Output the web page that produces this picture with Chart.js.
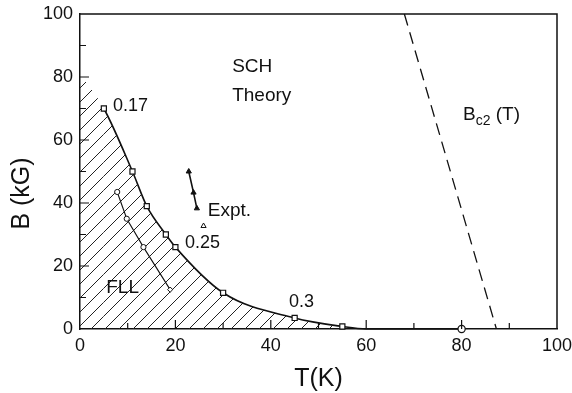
<!DOCTYPE html>
<html>
<head>
<meta charset="utf-8">
<script src="https://cdn.jsdelivr.net/npm/chart.js@4/dist/chart.umd.min.js"></script>
<style>
  html, body { margin: 0; padding: 0; background: #fff; }
</style>
</head>
<body>
<canvas id="myChart" width="572" height="393"></canvas>
<script>
// SCH theory curve, the hatched region sits under it
const theoryT = [0, 5, 11, 14, 18, 20, 30, 45, 55, 60, 80];
const theoryB = [81, 70, 50, 39, 30, 26, 11.5, 3.5, 0.8, 0, 0];

// FLL points
const fllT = [7.8, 9.8, 13.3, 18.9];
const fllB = [43.5, 35, 26, 12.5];

// experiment points
const exptT = [22.8, 23.8, 24.5, 25.9];
const exptB = [50, 43.3, 38.3, 32.7];

// Bc2(T) dashed line
const bc2T = [68, 87.3];
const bc2B = [100, 0];

const tickValues = [0, 20, 40, 60, 80, 100];
const minorValues = [10, 20, 30, 40, 50, 60, 70, 80, 90];

// text notes, anchored in data units
const notes = [
  { text: '0.17', t: 6.9, b: 70.8 },
  { text: 'SCH', t: 31.9, b: 83.2 },
  { text: 'Theory', t: 31.9, b: 74 },
  { text: 'Expt.', t: 26.8, b: 37.5 },
  { text: '0.25', t: 22, b: 27.3 },
  { text: 'FLL', t: 5.5, b: 13 },
  { text: '0.3', t: 43.8, b: 8.6 }
];

const ink = '#111';
const font = '"Liberation Sans", Arial, Helvetica, sans-serif';

const toXY = (xs, ys) => xs.map((x, i) => ({ x: x, y: ys[i] }));

// diagonal hatching
const makeHatch = () => {
  const s = 14;
  const c = document.createElement('canvas');
  c.width = s; c.height = s;
  const g = c.getContext('2d');
  g.strokeStyle = '#222';
  g.lineWidth = 1;
  g.beginPath();
  g.moveTo(-1, s + 1); g.lineTo(s + 1, -1);
  g.moveTo(-2, 2); g.lineTo(2, -2);
  g.moveTo(s - 2, s + 2); g.lineTo(s + 2, s - 2);
  g.stroke();
  return g.createPattern(c, 'repeat');
};

const theoryStyles = theoryT.map((t, i) => (i === theoryT.length - 1 ? 'circle' : 'rect'));
const theoryRadius = theoryT.map((t, i) => {
  if (i === 0 || i === theoryT.length - 2) return 0;
  return 3.6;
});

const frame = {
  id: 'frame',
  afterDatasetsDraw(chart) {
    const { ctx, chartArea: a, scales } = chart;
    ctx.save();
    ctx.strokeStyle = ink;
    ctx.lineWidth = 1.5;
    ctx.beginPath();
    ctx.moveTo(a.left, a.top); ctx.lineTo(a.right, a.top); ctx.lineTo(a.right, a.bottom);
    ctx.stroke();
    ctx.lineWidth = 1.2;
    ctx.beginPath();
    minorValues.forEach(v => {
      const len = v % 20 === 0 ? 9 : 6;
      const x = scales.x.getPixelForValue(v);
      ctx.moveTo(x, a.bottom); ctx.lineTo(x, a.bottom - len);
      const y = scales.y.getPixelForValue(v);
      ctx.moveTo(a.left, y); ctx.lineTo(a.left + len, y);
    });
    ctx.stroke();
    ctx.restore();
  },
  afterDraw(chart) {
    const { ctx, chartArea: a, scales } = chart;
    ctx.save();
    ctx.fillStyle = ink;
    ctx.textBaseline = 'middle';
    ctx.textAlign = 'left';
    notes.forEach(n => {
      ctx.font = (n.text.length <= 4 && /\d/.test(n.text) ? '18px ' : '19px ') + font;
      ctx.fillText(n.text, scales.x.getPixelForValue(n.t), scales.y.getPixelForValue(n.b));
    });
    // B_c2 (T)
    let x = scales.x.getPixelForValue(80.3);
    const y = scales.y.getPixelForValue(68);
    ctx.font = '19px ' + font;
    ctx.fillText('B', x, y);
    x += ctx.measureText('B').width;
    ctx.font = '14px ' + font;
    ctx.fillText('c2', x, y + 6);
    x += ctx.measureText('c2').width;
    ctx.font = '19px ' + font;
    ctx.fillText(' (T)', x, y);

    // axis titles
    ctx.font = '25px ' + font;
    ctx.textAlign = 'center';
    ctx.fillText('T(K)', (a.left + a.right) / 2, 379);
    ctx.translate(22, (a.top + a.bottom) / 2 + 22);
    ctx.rotate(-Math.PI / 2);
    ctx.fillText('B (kG)', 0, 0);
    ctx.restore();
  }
};

const ctx = document.getElementById('myChart').getContext('2d');
new Chart(ctx, {
  type: 'line',
  data: {
    datasets: [
      {
        label: 'SCH theory',
        data: toXY(theoryT, theoryB),
        order: 5,
        borderColor: ink,
        borderWidth: 1.6,
        backgroundColor: makeHatch(),
        fill: 'origin',
        cubicInterpolationMode: 'monotone',
        pointStyle: theoryStyles,
        pointRadius: theoryRadius,
        pointBackgroundColor: '#fff',
        pointBorderColor: ink,
        pointBorderWidth: 1.2,
        clip: false,
        segment: {
          borderColor: c => (c.p0DataIndex === 0 ? 'rgba(0,0,0,0)' : ink)
        }
      },
      {
        label: 'FLL',
        data: toXY(fllT, fllB),
        order: 1,
        borderColor: ink,
        borderWidth: 1.1,
        fill: false,
        pointStyle: ['circle', 'circle', 'circle', 'rectRot'],
        pointRadius: 2.6,
        pointBackgroundColor: '#fff',
        pointBorderColor: ink,
        pointBorderWidth: 1
      },
      {
        label: 'Expt.',
        data: toXY(exptT, exptB),
        order: 1,
        borderColor: ink,
        borderWidth: 1.6,
        fill: false,
        pointStyle: 'triangle',
        pointRadius: 3,
        pointBackgroundColor: [ink, ink, ink, '#fff'],
        pointBorderColor: ink,
        pointBorderWidth: 1,
        segment: {
          borderColor: c => (c.p0DataIndex === 2 ? 'rgba(0,0,0,0)' : ink)
        }
      },
      {
        label: 'Bc2(T)',
        data: toXY(bc2T, bc2B),
        order: 1,
        borderColor: ink,
        borderWidth: 1.3,
        borderDash: [12, 7],
        fill: false,
        pointRadius: 0,
        clip: false
      }
    ]
  },
  options: {
    responsive: false,
    animation: false,
    events: [],
    layout: { padding: 0 },
    plugins: {
      legend: { display: false },
      tooltip: { enabled: false }
    },
    scales: {
      x: {
        type: 'linear',
        min: 0,
        max: 100,
        afterFit: s => { s.height = 64; s.paddingLeft = 0; s.paddingRight = 15; },
        afterBuildTicks: s => { s.ticks = tickValues.map(v => ({ value: v })); },
        grid: { display: false, drawTicks: false },
        border: { display: true, color: ink, width: 1.5 },
        ticks: { color: ink, padding: 6, font: { family: font, size: 18 }, maxRotation: 0 }
      },
      y: {
        type: 'linear',
        min: 0,
        max: 100,
        afterFit: s => { s.width = 80; s.paddingTop = 14; s.paddingBottom = 0; },
        afterBuildTicks: s => { s.ticks = tickValues.map(v => ({ value: v })); },
        grid: { display: false, drawTicks: false },
        border: { display: true, color: ink, width: 1.5 },
        ticks: { color: ink, padding: 7, font: { family: font, size: 18 } }
      }
    }
  },
  plugins: [frame]
});
</script>
</body>
</html>
